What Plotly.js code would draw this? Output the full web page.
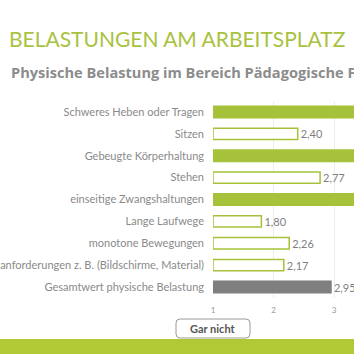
<!DOCTYPE html>
<html><head><meta charset="utf-8">
<script src="https://cdn.plot.ly/plotly-3.0.1.min.js"></script>
<style>html,body{margin:0;padding:0;overflow:hidden;background:#fff}</style>
</head><body>
<div id="chart" style="width:354px;height:354px"></div>
<script>
const categories = [
  "Schweres Heben oder Tragen",
  "Sitzen",
  "Gebeugte Körperhaltung",
  "Stehen",
  "einseitige Zwangshaltungen",
  "Lange Laufwege",
  "monotone Bewegungen",
  "anforderungen z. B. (Bildschirme, Material)",
  "Gesamtwert physische Belastung"
];
const values = [4.2, 2.40, 4.1, 2.77, 3.9, 1.80, 2.26, 2.17, 2.95];
const barStyle = ["fill", "outline", "fill", "outline", "fill", "outline", "outline", "outline", "total"];
const axisStart = 1;
const tickValues = [1, 2, 3];
const tickLabels = ["1", "2", "3"];

const GREEN = "#a5c23a", GRAY = "#7f7f7f", TXT = "#8a8a8a";
const fillColors = barStyle.map(s => s === "fill" ? GREEN : s === "total" ? GRAY : "#ffffff");
const lineColors = barStyle.map(s => s === "total" ? GRAY : GREEN);
const labels = values.map(v => v.toFixed(2).replace(".", ","));

const W = 354, H = 354, L = 213, T = 101, B = 56;
const pw = W - L, ph = H - T - B;
const px = x => (x - L) / pw;
const py = y => (H - B - y) / ph;

const r = 4;
const bx0 = 176, bx1 = 250, by0 = 319, by1 = 338;
const boxPath = `M ${px(bx0 + r)} ${py(by0)} L ${px(bx1 - r)} ${py(by0)} Q ${px(bx1)} ${py(by0)} ${px(bx1)} ${py(by0 + r)} L ${px(bx1)} ${py(by1 - r)} Q ${px(bx1)} ${py(by1)} ${px(bx1 - r)} ${py(by1)} L ${px(bx0 + r)} ${py(by1)} Q ${px(bx0)} ${py(by1)} ${px(bx0)} ${py(by1 - r)} L ${px(bx0)} ${py(by0 + r)} Q ${px(bx0)} ${py(by0)} ${px(bx0 + r)} ${py(by0)} Z`;

const trace = {
  type: "bar",
  orientation: "h",
  y: categories,
  x: values.map(v => v - axisStart),
  base: axisStart,
  text: labels,
  textposition: "outside",
  cliponaxis: false,
  constraintext: "none",
  textfont: {family: "Lato, 'Open Sans', sans-serif", size: 11, color: GRAY},
  marker: {color: fillColors, line: {color: lineColors, width: 1.5}},
  width: 0.52,
  hoverinfo: "none"
};

const layout = {
  width: W, height: H,
  margin: {l: L, r: 0, t: T, b: B},
  paper_bgcolor: "#fff", plot_bgcolor: "#fff",
  showlegend: false,
  xaxis: {
    range: [1, 1 + pw / 60.5],
    tickvals: tickValues, ticktext: tickLabels,
    showgrid: true, gridcolor: "#ececec", gridwidth: 1,
    zeroline: false, showline: false, ticks: "",
    tickfont: {family: "Lato, sans-serif", size: 8, color: "#999"},
    ticklabelstandoff: 6,
    fixedrange: true
  },
  yaxis: {
    autorange: "reversed",
    showgrid: false, zeroline: false, showline: false, ticks: "",
    ticklabelstandoff: 8,
    tickfont: {family: "Lato, 'Open Sans', sans-serif", size: 11, color: TXT},
    fixedrange: true
  },
  shapes: [
    {type: "rect", xref: "paper", yref: "paper", x0: px(0), x1: px(W + 2), y0: py(339), y1: py(H + 2),
     fillcolor: "#b1c935", line: {width: 0}, layer: "below"},
    {type: "path", xref: "paper", yref: "paper", path: boxPath, fillcolor: "#ffffff",
     line: {color: "#9a9a9a", width: 1}}
  ],
  annotations: [
    {xref: "paper", yref: "paper", x: px(7), y: py(38), xanchor: "left", yanchor: "middle",
     text: "BELASTUNGEN AM ARBEITSPLATZ", showarrow: false,
     font: {family: "Lato, 'Open Sans', sans-serif", size: 21, color: "#a8c240"}},
    {xref: "paper", yref: "paper", x: px(9), y: py(72), xanchor: "left", yanchor: "middle",
     text: "<b>Physische Belastung im Bereich Pädagogische Fachkräfte</b>", showarrow: false,
     font: {family: "'Open Sans', sans-serif", size: 14.6, color: "#8c8c8c"}},
    {xref: "paper", yref: "paper", x: px(213), y: py(328.5), xanchor: "center", yanchor: "middle",
     text: "<b>Gar nicht</b>", showarrow: false,
     font: {family: "Lato, 'Open Sans', sans-serif", size: 11, color: "#555"}}
  ]
};

Plotly.newPlot("chart", [trace], layout, {displayModeBar: false, staticPlot: true});
</script>
</body></html>
